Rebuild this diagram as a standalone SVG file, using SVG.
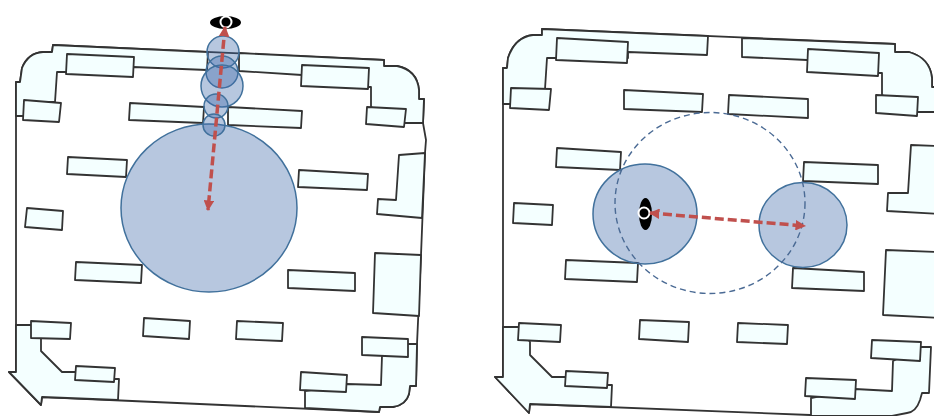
<svg xmlns="http://www.w3.org/2000/svg" width="934" height="416" viewBox="0 0 934 416">
<style>
.o{fill:#fff;stroke:#333;stroke-width:1.8;stroke-linejoin:round}
.r{fill:#f4ffff;stroke:#333;stroke-width:1.8;stroke-linejoin:round}
.z{fill:#f4ffff;stroke:#333;stroke-width:1.8;stroke-linejoin:round}
.c{fill:#3c66a8;fill-opacity:.37;stroke:#41719c;stroke-width:1.5}
.d{fill:none;stroke:#4a6a94;stroke-width:1.4;stroke-dasharray:6 4}
.a{fill:none;stroke:#c0504d;stroke-width:3.500;stroke-dasharray:9 4;marker-start:url(#h);marker-end:url(#h)}
</style>
<defs>
<marker id="h" viewBox="0 0 10 10" refX="9" refY="5" markerWidth="3" markerHeight="3" orient="auto-start-reverse"><path d="M0 0L10 5L0 10Z" fill="#c0504d"/></marker>
</defs>
<rect width="934" height="416" fill="#fff"/>
<g id="plan-left">
<path class="o" d="M53 45L384 60V66H397Q417 70 419 90V99H424L423 123L426 140L425 153L421 255L417 344L416 386H410L409 394Q406 405 393 407H380L379 412L42 397L41 405L9 372H16V82H20L22 68Q28 53 43 52H52Z"/>
<path class="z" d="M53 45L208 52L207 70L133 67V72H57L55 102H24V116H16V82H20L22 68Q28 53 43 52H52Z"/>
<path class="z" d="M239 53L384 60V66H397Q417 70 419 90V99H424L423 123H405L371 107V87H369L302 75L239 71Z"/>
<path class="z" d="M16 325H31L41 339V351L62 372H75L115 379H119L118 400L42 397L41 405L9 372H16Z"/>
<path class="z" d="M408 344H417L416 386H410L409 394Q406 405 393 407H380L379 412L305 408V391L347 384L381 385L382 356L408 344Z"/>
<path class="r" d="M399 155L425 153L422 218L377 214L378 199L396 200Z"/>
<path class="r" d="M375 253L421 255L419 316L373 313Z"/>
<path class="r" d="M67 54L134 57L133 77L66 74Z"/>
<path class="r" d="M24 100L61 103L59 122L23 120Z"/>
<path class="r" d="M130 103L204 107L203 123L129 120Z"/>
<path class="r" d="M302 65L369 68L368 89L301 86Z"/>
<path class="r" d="M367 107L406 109L404 127L366 124Z"/>
<path class="r" d="M228 107L302 111L301 128L228 125Z"/>
<path class="r" d="M68 157L127 160L126 177L67 174Z"/>
<path class="r" d="M299 170L368 174L367 190L298 187Z"/>
<path class="r" d="M27 208L63 211L62 230L25 227Z"/>
<path class="r" d="M76 262L142 265L141 283L75 280Z"/>
<path class="r" d="M288 270L355 273L355 291L288 288Z"/>
<path class="r" d="M237 321L283 323L282 341L236 339Z"/>
<path class="r" d="M144 318L190 321L189 339L143 336Z"/>
<path class="r" d="M31 321L71 323L70 339L31 338Z"/>
<path class="r" d="M76 366L115 368L114 382L75 380Z"/>
<path class="r" d="M362 337L408 339L408 357L362 355Z"/>
<path class="r" d="M301 372L347 375L346 392L300 390Z"/>
<ellipse class="c" cx="209" cy="208" rx="88" ry="84"/>
<circle class="c" cx="223" cy="52" r="16"/>
<circle class="c" cx="222" cy="72" r="16"/>
<circle class="c" cx="222" cy="86" r="21"/>
<circle class="c" cx="216" cy="106" r="12"/>
<circle class="c" cx="214" cy="125" r="11"/>
<ellipse cx="225.500" cy="22.500" rx="15.500" ry="6.500" fill="#000"/>
<circle cx="226" cy="22" r="5.500" fill="#000" stroke="#fff" stroke-width="2"/>
<line class="a" x1="225" y1="27" x2="208" y2="210"/>
</g>
<g id="plan-right">
<path class="o" d="M542 29L895 44V52H909Q930 58 932 78V87H940V420H892L810 415L530 404L529 413L495 377H503V68H507L508 58Q515 37 533 35H542Z"/>
<path class="z" d="M542 29L708 36L707 55L628 52V58H547L545 89H511V104H503V68H507L508 58Q515 37 533 35H542Z"/>
<path class="z" d="M742 38L895 44V52H909Q930 58 932 78V87H940V112H918L882 95V73H879L807 60L742 57Z"/>
<path class="z" d="M503 327H519L530 342V355L552 377H566L608 385H612L611 407L530 404L529 413L495 377H503Z"/>
<path class="z" d="M921 347H931L929 393H922L920 400Q916 412 907 413L892 416L811 416V398L855 389L892 391L893 361L921 347Z"/>
<path class="r" d="M911 145L940 146V214L887 211L888 193H908Z"/>
<path class="r" d="M886 250L940 252V318L883 315Z"/>
<path class="r" d="M557 38L628 42L627 63L556 60Z"/>
<path class="r" d="M511 88L551 89L549 110L510 108Z"/>
<path class="r" d="M624 90L703 94L702 112L624 109Z"/>
<path class="r" d="M729 95L808 99L808 118L728 114Z"/>
<path class="r" d="M808 49L879 53L878 76L807 72Z"/>
<path class="r" d="M876 95L918 97L917 116L876 113Z"/>
<path class="r" d="M557 148L621 152L620 170L556 167Z"/>
<path class="r" d="M804 162L878 165L878 184L803 181Z"/>
<path class="r" d="M514 203L553 205L552 225L513 223Z"/>
<path class="r" d="M566 260L638 263L637 282L565 279Z"/>
<path class="r" d="M793 268L864 272L864 291L792 288Z"/>
<path class="r" d="M640 320L689 322L688 342L639 339Z"/>
<path class="r" d="M738 323L788 325L787 344L737 342Z"/>
<path class="r" d="M519 323L561 325L560 342L518 340Z"/>
<path class="r" d="M566 371L608 373L607 388L565 386Z"/>
<path class="r" d="M872 340L921 342L920 361L871 358Z"/>
<path class="r" d="M806 378L856 380L855 399L805 396Z"/>
<ellipse class="c" cx="645" cy="214" rx="52" ry="50"/>
<ellipse class="c" cx="803" cy="225" rx="44" ry="42.500"/>
<ellipse class="d" cx="710" cy="203" rx="95" ry="90.500"/>
<ellipse cx="645.500" cy="214" rx="6.500" ry="16" fill="#000"/>
<circle cx="644" cy="213" r="5.500" fill="none" stroke="#fff" stroke-width="2"/>
<line class="a" x1="650" y1="213" x2="805" y2="226"/>
</g>
</svg>
